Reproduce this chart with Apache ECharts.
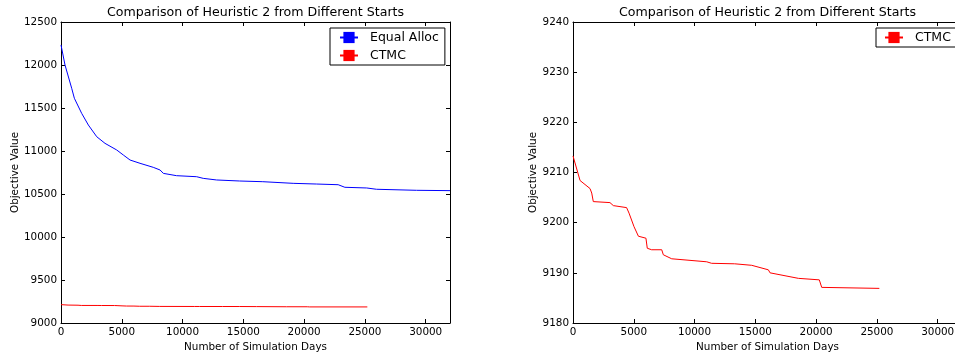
<!DOCTYPE html>
<html>
<head>
<meta charset="utf-8">
<script src="https://cdn.jsdelivr.net/npm/echarts@6/dist/echarts.min.js"></script>
<style>html,body{margin:0;padding:0;background:#fff;}#c{width:955px;height:356px;}</style>
</head>
<body>
<div id="c"></div>
<script>
const titleText = 'Comparison of Heuristic 2 from Different Starts';
const xName = 'Number of Simulation Days';
const yName = 'Objective Value';

const equalDays = [0, 330, 880, 1100, 1700, 2250, 2940, 3620, 4580, 5130, 5680, 6500, 7590, 8150, 8420, 9500, 11160, 11700, 12800, 14700, 16600, 19100, 21000, 22800, 23350, 25150, 25950, 29250, 32000];
const equalVals = [12233, 12000, 11729, 11613, 11438, 11302, 11166, 11089, 11012, 10953, 10895, 10857, 10810, 10779, 10740, 10713, 10701, 10682, 10663, 10651, 10643, 10624, 10616, 10608, 10578, 10570, 10555, 10543, 10539];

const ctmcDays = [0, 580, 1400, 1540, 1670, 3040, 3320, 4410, 4610, 5020, 5380, 6000, 6110, 6470, 7300, 7430, 8120, 11000, 11400, 13300, 14700, 16070, 16210, 18540, 20260, 20460, 25200];
const ctmcVals = [9213.3, 9208.4, 9206.8, 9205.9, 9204.2, 9204.0, 9203.4, 9203.0, 9201.9, 9199.2, 9197.3, 9196.9, 9194.9, 9194.6, 9194.6, 9193.6, 9192.8, 9192.2, 9191.9, 9191.8, 9191.5, 9190.6, 9190.0, 9188.9, 9188.6, 9187.1, 9186.9];

const xMin = 0, xMax = 32000, xStep = 5000;
const leftYMin = 9000, leftYMax = 12500, leftYStep = 500;
const rightYMin = 9180, rightYMax = 9240, rightYStep = 10;

const BLUE = '#0000ff', RED = '#ff0000';
const FONT = 'DejaVu Sans';
const DASH_SYMBOL = 'path://M0,0H20V1H0Z';
const pair = (xs, ys) => xs.map((x, i) => [x, ys[i]]);
const plain = v => String(v);

function xAx(grid, pos, labels) {
  return {
    type: 'value', gridIndex: grid, position: pos, min: xMin, max: xMax, interval: xStep,
    name: labels ? xName : '', nameLocation: 'middle', nameGap: 18,
    nameTextStyle: { fontFamily: FONT, fontSize: 10.4, color: '#000' },
    axisLine: { show: true, onZero: false, lineStyle: { color: '#000', width: 1 } },
    axisTick: { show: true, inside: true, length: 4, lineStyle: { color: '#000' } },
    axisLabel: { show: labels, margin: 4, fontFamily: FONT, fontSize: 10.4, color: '#000', formatter: plain },
    splitLine: { show: false }
  };
}
function yAx(grid, pos, labels, mn, mx, st, gap) {
  return {
    type: 'value', gridIndex: grid, position: pos, min: mn, max: mx, interval: st,
    name: labels ? yName : '', nameLocation: 'middle', nameGap: gap,
    nameTextStyle: { fontFamily: FONT, fontSize: 10.4, color: '#000' },
    axisLine: { show: true, onZero: false, lineStyle: { color: '#000', width: 1 } },
    axisTick: { show: true, inside: true, length: 4, lineStyle: { color: '#000' } },
    axisLabel: { show: labels, margin: 4, fontFamily: FONT, fontSize: 10.4, color: '#000', formatter: plain },
    splitLine: { show: false }
  };
}

const legendText = { fontFamily: FONT, fontSize: 12.5, color: '#000', padding: [0, 0, 0, 7] };

const chart = echarts.init(document.getElementById('c'), null, { renderer: 'canvas' });
chart.setOption({
  animation: false,
  backgroundColor: '#fff',
  title: [
    { text: titleText, left: 255.5, top: 6, textAlign: 'center', padding: 0,
      textStyle: { fontFamily: FONT, fontSize: 12.6, fontWeight: 'normal', color: '#000' } },
    { text: titleText, left: 767.5, top: 6, textAlign: 'center', padding: 0,
      textStyle: { fontFamily: FONT, fontSize: 12.6, fontWeight: 'normal', color: '#000' } }
  ],
  grid: [
    { left: 61, top: 22, width: 389, height: 301, outerBoundsMode: 'none', containLabel: false },
    { left: 573, top: 22, width: 389, height: 301, outerBoundsMode: 'none', containLabel: false }
  ],
  legend: [
    { data: ['Equal Alloc', 'CTMC'], orient: 'vertical', left: 330, top: 28,
      padding: [3, 6, 3, 9], itemGap: 5, itemWidth: 18, itemHeight: 14,
      borderColor: '#000', borderWidth: 1, borderRadius: 0,
      textStyle: legendText },
    { data: ['CTMC '], orient: 'vertical', left: 876, top: 28,
      padding: [3, 40, 3, 8], itemGap: 5, itemWidth: 18, itemHeight: 14,
      borderColor: '#000', borderWidth: 1, borderRadius: 0,
      textStyle: legendText }
  ],
  xAxis: [xAx(0, 'bottom', true), xAx(0, 'top', false), xAx(1, 'bottom', true), xAx(1, 'top', false)],
  yAxis: [
    yAx(0, 'left', true, leftYMin, leftYMax, leftYStep, 38), yAx(0, 'right', false, leftYMin, leftYMax, leftYStep, 0),
    yAx(1, 'left', true, rightYMin, rightYMax, rightYStep, 33), yAx(1, 'right', false, rightYMin, rightYMax, rightYStep, 0)
  ],
  series: [
    { name: 'Equal Alloc', type: 'line', xAxisIndex: 0, yAxisIndex: 0, data: pair(equalDays, equalVals),
      symbol: DASH_SYMBOL, showSymbol: false, color: BLUE, lineStyle: { color: BLUE, width: 1 }, itemStyle: { color: BLUE } },
    { name: 'CTMC', type: 'line', xAxisIndex: 0, yAxisIndex: 0, data: pair(ctmcDays, ctmcVals),
      symbol: DASH_SYMBOL, showSymbol: false, color: RED, lineStyle: { color: RED, width: 1 }, itemStyle: { color: RED } },
    { name: 'CTMC ', type: 'line', xAxisIndex: 2, yAxisIndex: 2, data: pair(ctmcDays, ctmcVals),
      symbol: DASH_SYMBOL, showSymbol: false, color: RED, lineStyle: { color: RED, width: 1 }, itemStyle: { color: RED } }
  ]
});
</script>
</body>
</html>
